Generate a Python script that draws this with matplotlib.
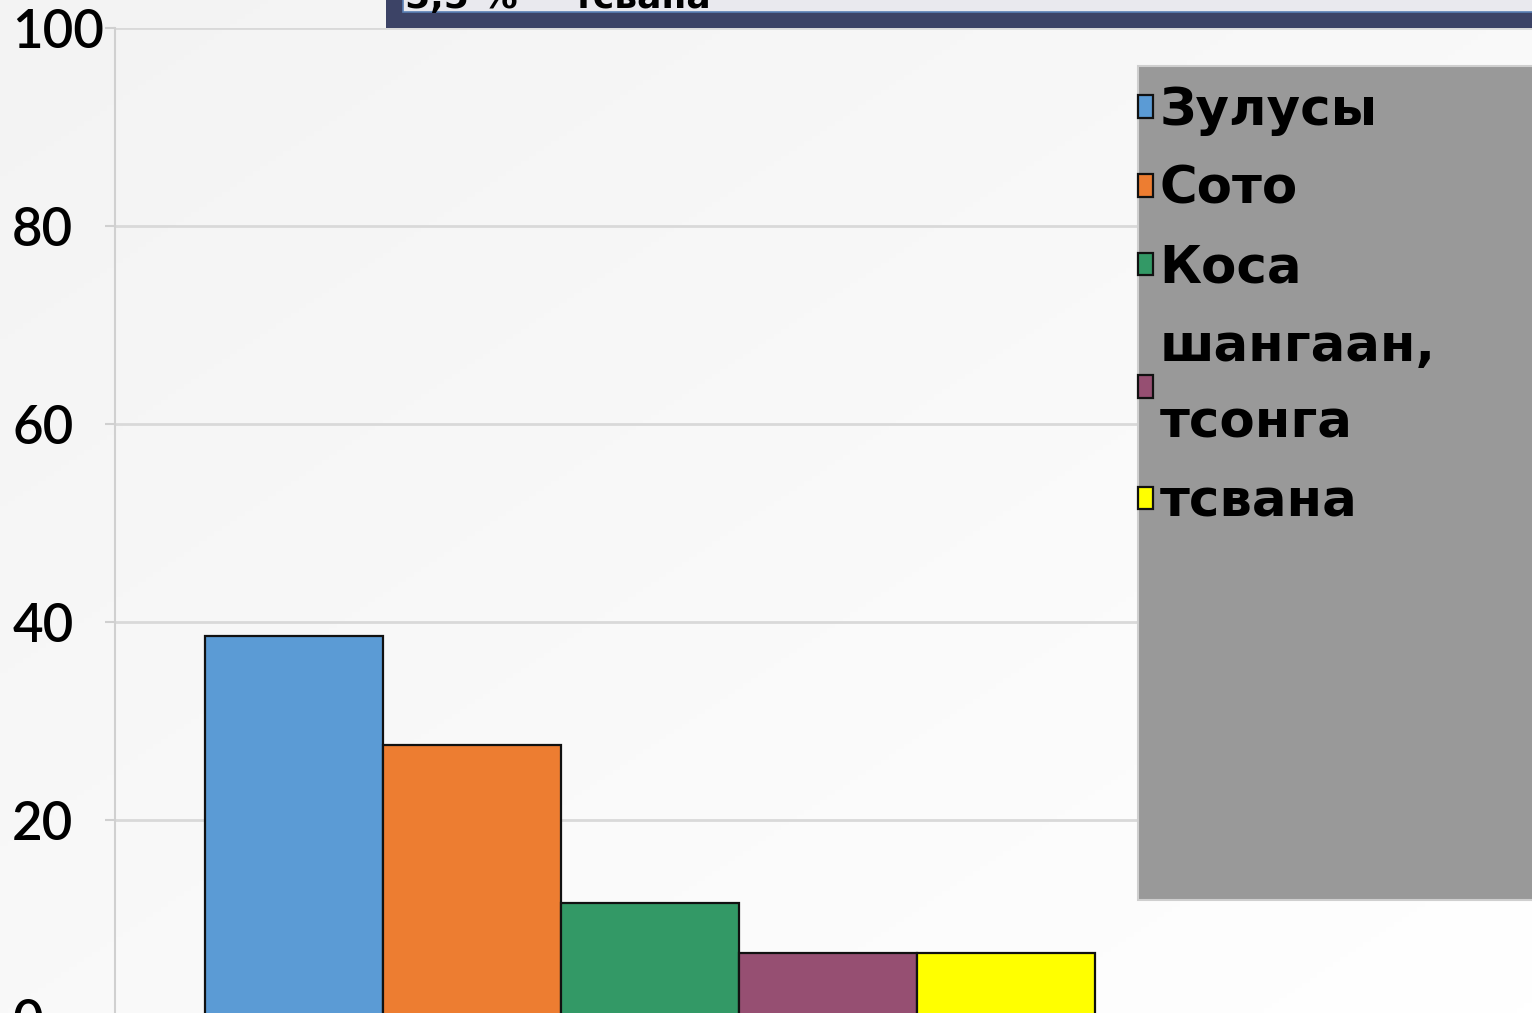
import matplotlib
matplotlib.use("Agg")
import matplotlib.pyplot as plt
from matplotlib.patches import Rectangle
import numpy as np

# ---- data ----
categories = ["Зулусы", "Сото", "Коса", "шангаан,\nтсонга", "тсвана"]
values = [38.6, 27.6, 11.6, 6.6, 6.6]
colors = ["#5b9bd5", "#ed7d31", "#339966", "#964f72", "#ffff00"]
yticks = [0, 20, 40, 60, 80, 100]
top_box_text = ["5,5 %", "тсвана"]

W, H = 1532, 1013
fig = plt.figure(figsize=(W / 100, H / 100), dpi=100)
fig.patch.set_facecolor("#fafafa")

# subtle background gradient
bg = fig.add_axes([0, 0, 1, 1], zorder=-10)
gx = np.linspace(0, 1, 200)
gy = np.linspace(0, 1, 200)
GX, GY = np.meshgrid(gx, gy)
grad = 0.5 * (1 - GX) + 0.5 * GY
bg.imshow(grad, cmap=matplotlib.colors.LinearSegmentedColormap.from_list("g", ["#ffffff", "#f3f3f3"]),
          extent=[0, 1, 0, 1], aspect="auto", origin="lower")
bg.axis("off")

ax = fig.add_axes([115 / W, -5 / H, 1 - 115 / W, 990 / H])
ax.set_facecolor("none")
x = np.arange(len(values))
bars = ax.bar(x, values, width=1.0, color=colors, edgecolor="#111111", linewidth=1.6, zorder=3)
ax.set_ylim(0, 100)
ax.set_xlim(-1.006, 6.955)
ax.set_yticks(yticks)
ax.set_yticklabels([str(t) for t in yticks], fontsize=38, family="Lato", weight="semibold")
for lab in ax.get_yticklabels():
    lab.set_horizontalalignment("left")
ax.tick_params(axis="y", length=7, width=1.5, color="#d0d0d0", pad=67)
ax.set_xticks([])
ax.grid(axis="y", color="#d9d9d9", linewidth=2)
ax.set_axisbelow(True)
for s in ["top", "right", "bottom"]:
    ax.spines[s].set_visible(False)
ax.spines["left"].set_color("#d0d0d0")
ax.spines["left"].set_linewidth(1.5)

# legend background box
fig.patches.append(Rectangle((1138 / W, (H - 900) / H), (W - 1138) / W + 0.01, (900 - 66) / H,
                             transform=fig.transFigure, facecolor="#999999",
                             edgecolor="#cfcfcf", linewidth=1.5, zorder=5))
leg = fig.legend(bars, categories, loc="upper left", bbox_to_anchor=(1138 / W, 1 - 86 / H),
                 frameon=False, prop={"family": "DejaVu Sans", "weight": "bold", "size": 37},
                 handlelength=0.3, handleheight=0.3, handletextpad=0.12, labelspacing=0.56,
                 borderaxespad=0, borderpad=0)
for t in leg.get_texts():
    t.set_linespacing(1.68)
leg.set_zorder(6)

# top text box (cut off)
fig.patches.append(Rectangle((386 / W, (H - 28) / H), (W - 386) / W + 0.02, 0.1,
                             transform=fig.transFigure, facecolor="#3c4366",
                             edgecolor="none", zorder=5))
fig.patches.append(Rectangle((403 / W, (H - 12) / H), (W - 403) / W + 0.02, 0.1,
                             transform=fig.transFigure, facecolor="#e9e9ee",
                             edgecolor="#5a80b5", linewidth=1.2, zorder=5))
fig.text(405 / W, 1 - 8 / H, top_box_text[0], fontsize=26, weight="bold", va="baseline",
         ha="left", zorder=6, family="DejaVu Sans")
fig.text(573 / W, 1 - 8 / H, top_box_text[1], fontsize=26, weight="bold", va="baseline",
         ha="left", zorder=6, family="DejaVu Sans")

fig.savefig("out.png", dpi=100, facecolor=fig.get_facecolor())
